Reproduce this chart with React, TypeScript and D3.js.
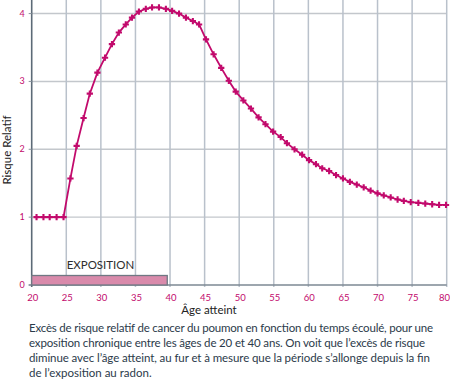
import React, { useEffect, useRef } from "react";
import * as d3 from "d3";

const ages = [
  20.7, 21.7, 22.6, 23.6, 24.6, 25.6, 26.5, 27.5, 28.4, 29.5,
  30.6, 31.6, 32.6, 33.6, 34.5, 35.5, 36.5, 37.4, 38.4, 39.4,
  40.3, 41.3, 42.3, 43.3, 44.2, 45.2, 46.3, 47.4, 48.5, 49.5,
  50.6, 51.7, 52.8, 53.8, 54.9, 56.0, 56.9, 58.0, 59.1, 60.1,
  61.1, 62.0, 63.0, 64.0, 65.0, 66.0, 67.0, 68.0, 69.0, 70.0,
  70.9, 71.9, 72.9, 73.8, 74.8, 75.9, 76.9, 77.9, 78.9, 79.9,
];
const risk = [
  1.0, 1.0, 1.0, 1.0, 1.0, 1.57, 2.05, 2.46, 2.82, 3.13,
  3.35, 3.55, 3.72, 3.84, 3.94, 4.03, 4.07, 4.09, 4.09, 4.07,
  4.04, 4.0, 3.94, 3.89, 3.84, 3.62, 3.4, 3.2, 3.01, 2.85,
  2.72, 2.6, 2.47, 2.37, 2.26, 2.18, 2.09, 2.0, 1.92, 1.84,
  1.78, 1.72, 1.68, 1.62, 1.57, 1.52, 1.48, 1.44, 1.39, 1.35,
  1.32, 1.29, 1.26, 1.24, 1.22, 1.21, 1.2, 1.19, 1.18, 1.18,
];
const xTicks = [20, 25, 30, 35, 40, 45, 50, 55, 60, 65, 70, 75, 80];
const yTicks = [0, 1, 2, 3, 4];
const exposure = [20, 39.6];
const exposureLabel = "EXPOSITION";
const xTitle = "Âge atteint";
const yTitle = "Risque Relatif";
const captionLines = [
  "Excès de risque relatif de cancer du poumon en fonction du temps écoulé, pour une",
  "exposition chronique entre les âges de 20 et 40 ans. On voit que l’excès de risque",
  "diminue avec l’âge atteint, au fur et à mesure que la période s’allonge depuis la fin",
  "de l’exposition au radon.",
];

const W = 450;
const H = 381;
const MAGENTA = "#c20a6c";
const GRID = "#b9c1cb";
const FONT = "Lato, 'Open Sans', sans-serif";

export default function App() {
  const ref = useRef<SVGSVGElement>(null);

  useEffect(() => {
    document.body.style.margin = "0";
    const svg = d3.select(ref.current);
    svg.selectAll("*").remove();

    const x = d3.scaleLinear().domain([20, 80]).range([31.7, 446.7]);
    const y = d3.scaleLinear().domain([0, 4.2]).range([285, 0]);

    const g = svg.append("g");

    g.selectAll("line.hg")
      .data(yTicks.filter((t) => t > 0))
      .enter()
      .append("line")
      .attr("x1", x(20))
      .attr("x2", x(80))
      .attr("y1", (d) => y(d))
      .attr("y2", (d) => y(d))
      .attr("stroke", "#c3c7cc")
      .attr("stroke-width", 1.4);

    g.selectAll("line.vg")
      .data(xTicks.filter((t) => t > 20))
      .enter()
      .append("line")
      .attr("x1", (d) => x(d))
      .attr("x2", (d) => x(d))
      .attr("y1", y(0) + 2)
      .attr("y2", 0)
      .attr("stroke", GRID)
      .attr("stroke-width", 1.5);

    g.append("line")
      .attr("x1", x(20) - 3)
      .attr("x2", x(80))
      .attr("y1", y(0))
      .attr("y2", y(0))
      .attr("stroke", "#7d8893")
      .attr("stroke-width", 1.5);
    g.append("line")
      .attr("x1", x(20))
      .attr("x2", x(20))
      .attr("y1", y(0) + 2)
      .attr("y2", 0)
      .attr("stroke", "#5c6a77")
      .attr("stroke-width", 1.6);

    g.selectAll("line.yt")
      .data(yTicks)
      .enter()
      .append("line")
      .attr("x1", x(20) - 3)
      .attr("x2", x(20))
      .attr("y1", (d) => y(d))
      .attr("y2", (d) => y(d))
      .attr("stroke", "#8a949e")
      .attr("stroke-width", 1);

    g.selectAll("text.yl")
      .data(yTicks)
      .enter()
      .append("text")
      .attr("x", 22)
      .attr("y", (d) => y(d) + 3)
      .attr("text-anchor", "middle")
      .attr("font-family", FONT)
      .attr("font-size", 9)
      .attr("fill", MAGENTA)
      .text((d) => String(d));

    g.selectAll("text.xl")
      .data(xTicks)
      .enter()
      .append("text")
      .attr("x", (d) => Math.min(x(d) + 1, 444.5))
      .attr("y", 300.5)
      .attr("text-anchor", "middle")
      .attr("font-family", FONT)
      .attr("font-size", 9.5)
      .attr("fill", MAGENTA)
      .text((d) => String(d));

    g.append("rect")
      .attr("x", x(exposure[0]))
      .attr("y", 275.5)
      .attr("width", x(exposure[1]) - x(exposure[0]))
      .attr("height", y(0) - 275.5)
      .attr("fill", "#d98aab")
      .attr("stroke", "#6f7883")
      .attr("stroke-width", 1.3);
    g.append("text")
      .attr("x", 100.5)
      .attr("y", 268.5)
      .attr("text-anchor", "middle")
      .attr("font-family", FONT)
      .attr("font-size", 11.5)
      .attr("fill", "#2e2e2e")
      .text(exposureLabel);

    const pts = ages.map((a, i) => [a, risk[i]] as [number, number]);
    g.append("path")
      .datum(pts)
      .attr("fill", "none")
      .attr("stroke", MAGENTA)
      .attr("stroke-width", 1.8)
      .attr(
        "d",
        d3
          .line<[number, number]>()
          .x((d) => x(d[0]))
          .y((d) => y(d[1]))
      );

    const sym = d3.symbol().type(d3.symbolCross).size(22);
    g.selectAll("path.m")
      .data(pts)
      .enter()
      .append("path")
      .attr("transform", (d) => `translate(${x(d[0])},${y(d[1])})`)
      .attr("d", sym() as string)
      .attr("fill", MAGENTA);

    g.append("text")
      .attr("transform", "translate(11,150) rotate(-90)")
      .attr("text-anchor", "middle")
      .attr("font-family", FONT)
      .attr("font-size", 11.5)
      .attr("fill", "#222")
      .text(yTitle);

    g.append("text")
      .attr("x", 209)
      .attr("y", 314)
      .attr("text-anchor", "middle")
      .attr("font-family", FONT)
      .attr("font-size", 11.5)
      .attr("fill", "#222")
      .text(xTitle);

    const widths = [404, 396, 401, 0];
    g.selectAll("text.cap")
      .data(captionLines)
      .enter()
      .append("text")
      .attr("x", 29)
      .attr("y", (_d, i) => 332 + i * 15)
      .attr("font-family", FONT)
      .attr("font-size", 11.5)
      .attr("fill", "#2b3a4a")
      .each(function (_d, i) {
        if (widths[i] > 0) {
          d3.select(this)
            .attr("textLength", widths[i])
            .attr("lengthAdjust", "spacing");
        }
      })
      .text((d) => d);
  }, []);

  return (
    <svg
      ref={ref}
      width={W}
      height={H}
      style={{ position: "absolute", left: 0, top: 0, background: "#fff" }}
    />
  );
}
